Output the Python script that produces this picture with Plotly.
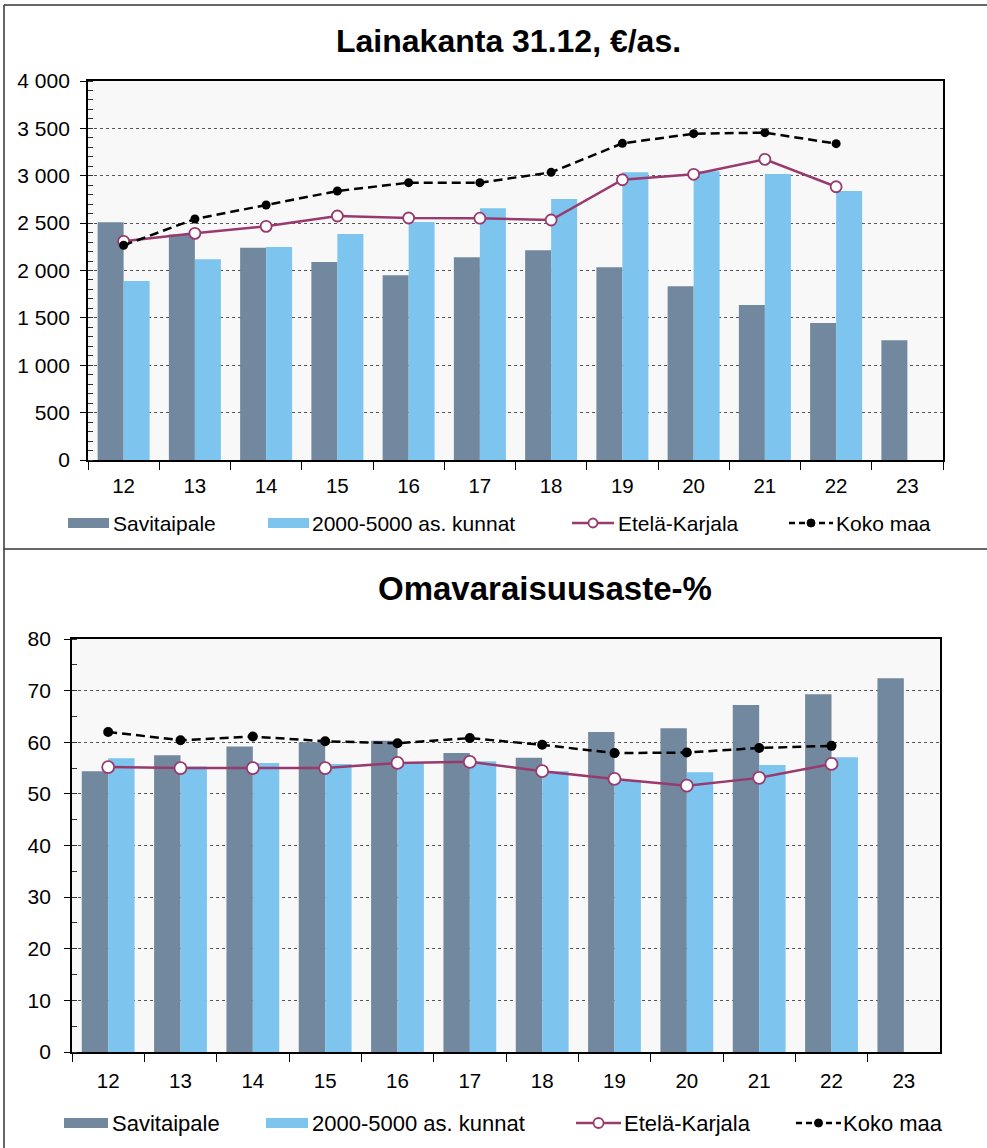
import plotly.graph_objects as go

# ---------------- data ----------------
years = ["12", "13", "14", "15", "16", "17", "18", "19", "20", "21", "22", "23"]

# Lainakanta 31.12, €/as.
lk_savitaipale = [2510, 2380, 2240, 2090, 1950, 2140, 2215, 2035, 1835, 1635, 1445, 1265]
lk_ryhma = [1890, 2118, 2248, 2385, 2512, 2656, 2755, 3036, 3047, 3018, 2839, None]
lk_etela_karjala = [2308, 2392, 2466, 2575, 2554, 2552, 2533, 2958, 3015, 3173, 2884, None]
lk_koko_maa = [2266, 2543, 2691, 2839, 2927, 2927, 3036, 3342, 3444, 3455, 3339, None]

# Omavaraisuusaste-%
ov_savitaipale = [54.4, 57.5, 59.2, 60.0, 60.3, 57.9, 57.0, 62.0, 62.7, 67.2, 69.3, 72.4]
ov_ryhma = [56.9, 55.3, 56.0, 55.8, 56.1, 56.3, 54.4, 52.7, 54.2, 55.6, 57.1, None]
ov_etela_karjala = [55.2, 55.0, 55.0, 55.0, 56.0, 56.2, 54.4, 52.9, 51.6, 53.1, 55.8, None]
ov_koko_maa = [62.0, 60.4, 61.1, 60.2, 59.8, 60.8, 59.5, 57.9, 58.0, 58.9, 59.3, None]

lk_tickvals = [0, 500, 1000, 1500, 2000, 2500, 3000, 3500, 4000]
lk_ticktext = ["0", "500", "1 000", "1 500", "2 000", "2 500", "3 000", "3 500", "4 000"]
ov_tickvals = [0, 10, 20, 30, 40, 50, 60, 70, 80]
ov_ticktext = ["0", "10", "20", "30", "40", "50", "60", "70", "80"]

series_names = ["Savitaipale", "2000-5000 as. kunnat", "Etelä-Karjala", "Koko maa"]
titles = ["Lainakanta 31.12, €/as.", "Omavaraisuusaste-%"]

# ---------------- style ----------------
W, H = 987, 1148
FONT = "Liberation Sans, Arial, sans-serif"
C_DARK = "#72889e"
C_LIGHT = "#7dc4ee"
C_PURPLE = "#993a6e"
C_BLACK = "#000000"
BG = "#f8f8f8"


def px(x):
    return x / W


def py(y):
    return 1 - y / H


fig = go.Figure()


def add_chart(xa, ya, sav, ryh, ek, km, msize_ek, msize_km):
    fig.add_trace(go.Bar(x=years, y=sav, name=series_names[0], marker_color=C_DARK,
                         marker_line_width=0, xaxis=xa, yaxis=ya, showlegend=False))
    fig.add_trace(go.Bar(x=years, y=ryh, name=series_names[1], marker_color=C_LIGHT,
                         marker_line_width=0, xaxis=xa, yaxis=ya, showlegend=False))
    fig.add_trace(go.Scatter(x=years, y=ek, name=series_names[2], mode="lines+markers",
                             line=dict(color=C_PURPLE, width=2.5),
                             marker=dict(symbol="circle", size=msize_ek, color="white",
                                         line=dict(color=C_PURPLE, width=1.8)),
                             xaxis=xa, yaxis=ya, showlegend=False))
    fig.add_trace(go.Scatter(x=years, y=km, name=series_names[3], mode="lines+markers",
                             line=dict(color=C_BLACK, width=2.5, dash="9px,5px"),
                             marker=dict(symbol="circle", size=msize_km, color=C_BLACK),
                             xaxis=xa, yaxis=ya, showlegend=False))


add_chart("x", "y", lk_savitaipale, lk_ryhma, lk_etela_karjala, lk_koko_maa, 11, 9)
add_chart("x2", "y2", ov_savitaipale, ov_ryhma, ov_etela_karjala, ov_koko_maa, 12, 10)

xcommon = dict(type="category", tickson="boundaries", ticks="outside", ticklen=8,
               tickcolor="#000", tickwidth=1, showline=True, linecolor="#000", linewidth=1.8,
               mirror=True, showgrid=False, range=[-0.5, 11.5],
               tickfont=dict(family=FONT, size=20.5, color="#000"), automargin=False)
ycommon = dict(showline=True, linecolor="#000", linewidth=1.8, mirror=True,
               ticks="outside", ticklen=6, tickcolor="#000", tickwidth=1,
               showgrid=True, gridcolor="#555", griddash="dot", gridwidth=1,
               zeroline=False, tickfont=dict(family=FONT, size=21, color="#000"),
               automargin=False)

fig.update_layout(
    width=W, height=H,
    margin=dict(l=0, r=0, t=0, b=0),
    paper_bgcolor="white", plot_bgcolor=BG,
    barmode="group", bargap=0.27, bargroupgap=0,
    font=dict(family=FONT, color="#000"),
    xaxis=dict(domain=[px(88), px(943)], anchor="y", ticklabelstandoff=6, **xcommon),
    yaxis=dict(domain=[py(460), py(81)], anchor="x", range=[0, 4000],
               tickvals=lk_tickvals, ticktext=lk_ticktext, ticklabelstandoff=6,
               minor=dict(dtick=100, ticks="inside", ticklen=5, tickcolor="#333", showgrid=False),
               **ycommon),
    xaxis2=dict(domain=[px(72), px(940)], anchor="y2", ticklabelstandoff=9, **xcommon),
    yaxis2=dict(domain=[py(1052), py(639)], anchor="x2", range=[0, 80],
                tickvals=ov_tickvals, ticktext=ov_ticktext, ticklabelstandoff=9,
                minor=dict(dtick=5, ticks="inside", ticklen=5, tickcolor="#333", showgrid=False),
                **ycommon),
)

shapes = []
annotations = []

# outer frames
frame = dict(color="#333", width=1.5)
shapes.append(dict(type="line", xref="paper", yref="paper", x0=px(4), x1=px(987), y0=py(5), y1=py(5), line=frame))
shapes.append(dict(type="line", xref="paper", yref="paper", x0=px(4), x1=px(4), y0=py(5), y1=py(1148), line=frame))
shapes.append(dict(type="line", xref="paper", yref="paper", x0=px(4), x1=px(987), y0=py(549), y1=py(549), line=frame))

# titles
annotations.append(dict(text="<b>" + titles[0] + "</b>", xref="paper", yref="paper",
                        x=px(508), y=py(41), xanchor="center", yanchor="middle", showarrow=False,
                        font=dict(family=FONT, size=32, color="#000")))
annotations.append(dict(text="<b>" + titles[1] + "</b>", xref="paper", yref="paper",
                        x=px(545), y=py(589), xanchor="center", yanchor="middle", showarrow=False,
                        font=dict(family=FONT, size=33, color="#000")))


def legend(yc, fsize, sw1, t1, sw2, t2, l3, t3, l4, t4, r_ek, r_km):
    # bar swatches
    for (a, b), col in ((sw1, C_DARK), (sw2, C_LIGHT)):
        shapes.append(dict(type="rect", xref="paper", yref="paper", x0=px(a), x1=px(b),
                           y0=py(yc + 5), y1=py(yc - 5), fillcolor=col, line=dict(width=0)))
    # Etelä-Karjala
    a, b = l3
    shapes.append(dict(type="line", xref="paper", yref="paper", x0=px(a), x1=px(b),
                       y0=py(yc), y1=py(yc), line=dict(color=C_PURPLE, width=2.5)))
    shapes.append(dict(type="circle", xref="paper", yref="paper", xsizemode="pixel", ysizemode="pixel",
                       xanchor=px((a + b) / 2), yanchor=py(yc), x0=-r_ek, x1=r_ek, y0=-r_ek, y1=r_ek,
                       fillcolor="white", line=dict(color=C_PURPLE, width=1.8)))
    # Koko maa
    a, b = l4
    shapes.append(dict(type="line", xref="paper", yref="paper", x0=px(a), x1=px(b),
                       y0=py(yc), y1=py(yc), line=dict(color=C_BLACK, width=2.5, dash="6px,4px")))
    shapes.append(dict(type="circle", xref="paper", yref="paper", xsizemode="pixel", ysizemode="pixel",
                       xanchor=px((a + b) / 2), yanchor=py(yc), x0=-r_km, x1=r_km, y0=-r_km, y1=r_km,
                       fillcolor=C_BLACK, line=dict(color=C_BLACK, width=1)))
    for xt, name in ((t1, series_names[0]), (t2, series_names[1]), (t3, series_names[2]), (t4, series_names[3])):
        annotations.append(dict(text=name, xref="paper", yref="paper", x=px(xt), y=py(yc),
                                xanchor="left", yanchor="middle", showarrow=False,
                                font=dict(family=FONT, size=fsize, color="#000")))


legend(523, 21, (68, 109), 111, (268, 309), 310, (572, 614), 616, (789, 833), 834, 4.5, 4)
legend(1123, 22, (64, 108), 110, (266, 308), 310, (576, 621), 622, (796, 841), 841, 5, 4)

fig.update_layout(shapes=shapes, annotations=annotations)

fig.write_html("out.html", config={"displayModeBar": False},
               post_script="document.body.style.margin='0';document.body.style.overflow='hidden';")
